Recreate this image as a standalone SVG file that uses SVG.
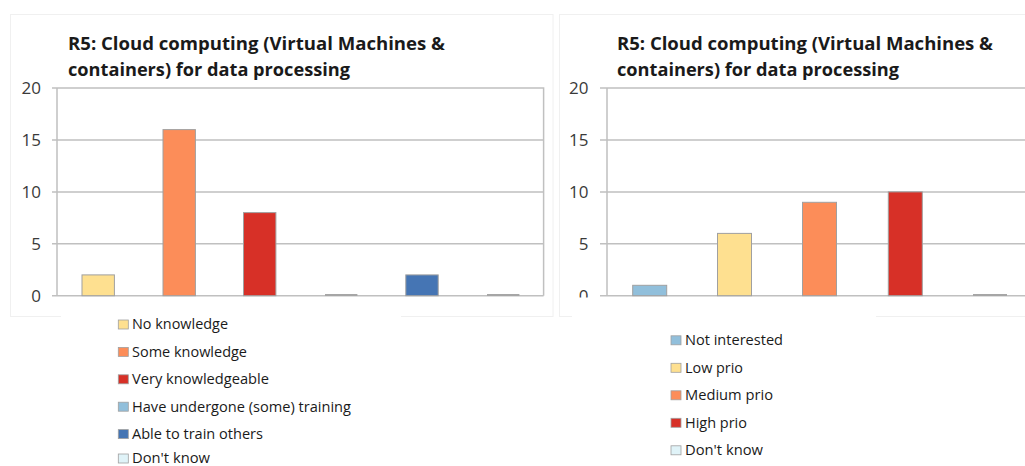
<svg xmlns="http://www.w3.org/2000/svg" width="1025" height="466" viewBox="0 0 1025 466">
<style>
  .panel{fill:#ffffff;stroke:#f0f0f0;stroke-width:1}
  .grid{stroke:#c0c0c0;stroke-width:1.5;fill:none}
  .title{font-family:"Open Sans","Liberation Sans",sans-serif;font-weight:bold;font-size:18px;fill:#1a1a1a}
  .ylab{font-family:"Open Sans","Liberation Sans",sans-serif;font-size:17px;fill:#3a3a3a;text-anchor:end}
  .leg{font-family:"Open Sans","Liberation Sans",sans-serif;font-size:14px;fill:#1a1a1a}
  .bar{stroke:#a0a0a0;stroke-width:1}
  .zero{fill:#a6a6a6}
  .sw{stroke:#a0a0a0;stroke-width:0.8}
  .c1{fill:#fee090}.c2{fill:#fc8d59}.c3{fill:#d73027}.c4{fill:#91bfdb}.c5{fill:#4575b4}.c6{fill:#e0f3f8}
  .cover{fill:#ffffff}
</style>
<rect width="1025" height="466" fill="#ffffff"/>

<!-- Left chart -->
<g id="chart-left">
  <rect class="panel" x="10.5" y="14.5" width="542.5" height="302"/>
  <text class="title" x="68" y="50" textLength="377" lengthAdjust="spacingAndGlyphs">R5: Cloud computing (Virtual Machines &amp;</text>
  <text class="title" x="68" y="75.5" textLength="282" lengthAdjust="spacingAndGlyphs">containers) for data processing</text>
  <g id="left-grid">
    <path class="grid" d="M52 88H543.6V295.7M52 140H543.6M52 191.9H543.6M52 243.8H543.6M52 295.7H543.6M57 88V295.7"/>
  </g>
  <g id="left-yaxis">
    <text class="ylab" x="41" y="94">20</text>
    <text class="ylab" x="41" y="146">15</text>
    <text class="ylab" x="41" y="198">10</text>
    <text class="ylab" x="41" y="250">5</text>
    <text class="ylab" x="41" y="302">0</text>
  </g>
  <g id="left-bars">
    <rect id="lb-no-knowledge" class="bar c1" x="82" y="274.9" width="32.4" height="20.8"/>
    <rect id="lb-some-knowledge" class="bar c2" x="163" y="129.6" width="32.4" height="166.1"/>
    <rect id="lb-very-knowledgeable" class="bar c3" x="243.5" y="212.6" width="32.4" height="83.1"/>
    <rect id="lb-training" class="zero" x="325" y="294" width="32.4" height="2"/>
    <rect id="lb-train-others" class="bar c5" x="405.8" y="274.9" width="32.4" height="20.8"/>
    <rect id="lb-dont-know" class="zero" x="487" y="294" width="32.4" height="2"/>
  </g>
</g>

<!-- Right chart -->
<g id="chart-right">
  <rect class="panel" x="559.5" y="14.5" width="470" height="302"/>
  <text class="title" x="617" y="50" textLength="376" lengthAdjust="spacingAndGlyphs">R5: Cloud computing (Virtual Machines &amp;</text>
  <text class="title" x="617" y="75.5" textLength="282" lengthAdjust="spacingAndGlyphs">containers) for data processing</text>
  <g id="right-grid">
    <path class="grid" d="M600 88H1025M600 140H1025M600 191.9H1025M600 243.8H1025M600 295.7H1025M607 88V295.7"/>
  </g>
  <g id="right-yaxis">
    <text class="ylab" x="588.5" y="94">20</text>
    <text class="ylab" x="588.5" y="146">15</text>
    <text class="ylab" x="588.5" y="198">10</text>
    <text class="ylab" x="588.5" y="250">5</text>
    <text class="ylab" x="588.5" y="302">0</text>
  </g>
  <g id="right-bars">
    <rect id="rb-not-interested" class="bar c4" x="632.7" y="285.3" width="34" height="10.4"/>
    <rect id="rb-low" class="bar c1" x="717.5" y="233.4" width="34" height="62.3"/>
    <rect id="rb-medium" class="bar c2" x="802.5" y="202.3" width="34" height="93.4"/>
    <rect id="rb-high" class="bar c3" x="888.3" y="191.9" width="34" height="103.8"/>
    <rect id="rb-dont-know" class="zero" x="973" y="294" width="34" height="2"/>
  </g>
</g>

<!-- Left legend -->
<g id="legend-left">
  <rect class="cover" x="61" y="300" width="340" height="166"/>
  <g id="ll-1"><rect class="sw c1" x="118.3" y="320" width="10" height="9"/><text class="leg" x="132" y="329.3" textLength="96" lengthAdjust="spacingAndGlyphs">No knowledge</text></g>
  <g id="ll-2"><rect class="sw c2" x="118.3" y="347.4" width="10" height="9"/><text class="leg" x="132" y="356.7" textLength="115" lengthAdjust="spacingAndGlyphs">Some knowledge</text></g>
  <g id="ll-3"><rect class="sw c3" x="118.3" y="374.8" width="10" height="9"/><text class="leg" x="132" y="384.1" textLength="137" lengthAdjust="spacingAndGlyphs">Very knowledgeable</text></g>
  <g id="ll-4"><rect class="sw c4" x="118.3" y="402.2" width="10" height="9"/><text class="leg" x="132" y="411.5" textLength="219" lengthAdjust="spacingAndGlyphs">Have undergone (some) training</text></g>
  <g id="ll-5"><rect class="sw c5" x="118.3" y="429.6" width="10" height="9"/><text class="leg" x="132" y="438.9" textLength="131" lengthAdjust="spacingAndGlyphs">Able to train others</text></g>
  <g id="ll-6"><rect class="sw c6" x="118.3" y="454" width="10" height="9"/><text class="leg" x="132" y="463" textLength="78" lengthAdjust="spacingAndGlyphs">Don't know</text></g>
</g>

<!-- Right legend -->
<g id="legend-right">
  <rect class="cover" x="572" y="297.5" width="304" height="169"/>
  <g id="rl-1"><rect class="sw c4" x="671" y="335.8" width="10" height="9"/><text class="leg" x="685" y="345" textLength="98" lengthAdjust="spacingAndGlyphs">Not interested</text></g>
  <g id="rl-2"><rect class="sw c1" x="671" y="363.3" width="10" height="9"/><text class="leg" x="685" y="372.5" textLength="58" lengthAdjust="spacingAndGlyphs">Low prio</text></g>
  <g id="rl-3"><rect class="sw c2" x="671" y="390.8" width="10" height="9"/><text class="leg" x="685" y="400" textLength="88" lengthAdjust="spacingAndGlyphs">Medium prio</text></g>
  <g id="rl-4"><rect class="sw c3" x="671" y="418.3" width="10" height="9"/><text class="leg" x="685" y="427.5" textLength="62" lengthAdjust="spacingAndGlyphs">High prio</text></g>
  <g id="rl-5"><rect class="sw c6" x="671" y="445.8" width="10" height="9"/><text class="leg" x="685" y="455" textLength="78" lengthAdjust="spacingAndGlyphs">Don't know</text></g>
</g>
</svg>
